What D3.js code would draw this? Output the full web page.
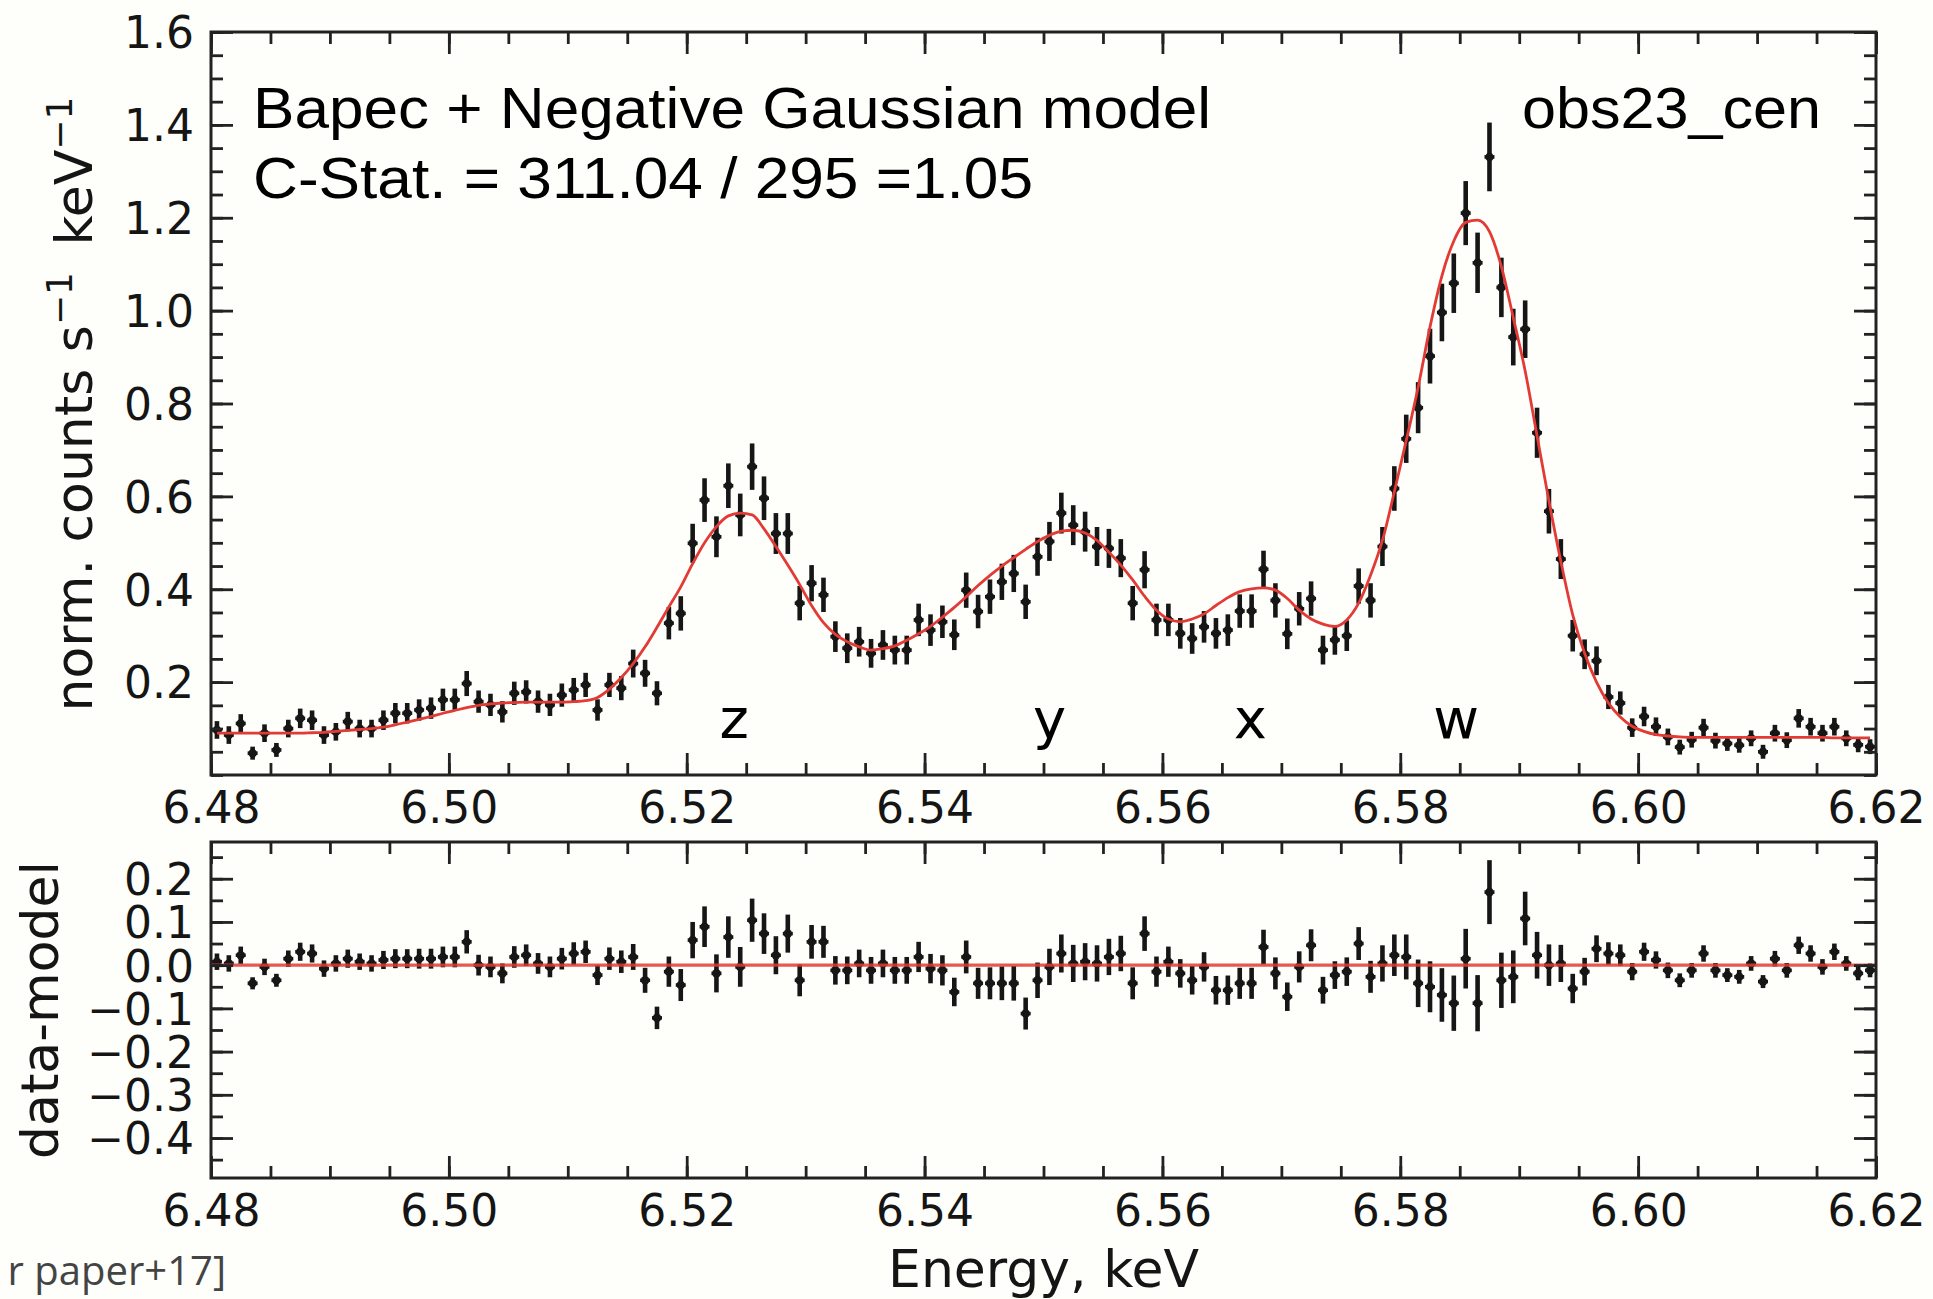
<!DOCTYPE html>
<html><head><meta charset="utf-8">
<script src="https://cdn.jsdelivr.net/npm/d3@7"></script>
<style>
html,body{margin:0;padding:0;background:#fefefa;}
svg{display:block;}
</style></head>
<body><svg id="c" width="1933" height="1299"></svg>
<script>
// ---------------- data ----------------
const energy = [
6.4805,6.4815,6.4825,6.4835,6.4845,6.4855,6.4865,6.4875,6.4885,6.4895,
6.4905,6.4915,6.4925,6.4935,6.4945,6.4955,6.4965,6.4975,6.4985,6.4995,
6.5005,6.5015,6.5025,6.5035,6.5045,6.5055,6.5065,6.5075,6.5085,6.5095,
6.5105,6.5115,6.5125,6.5135,6.5145,6.5155,6.5165,6.5175,6.5185,6.5195,
6.5205,6.5215,6.5225,6.5235,6.5245,6.5255,6.5265,6.5275,6.5285,6.5295,
6.5305,6.5315,6.5325,6.5335,6.5345,6.5355,6.5365,6.5375,6.5385,6.5395,
6.5405,6.5415,6.5425,6.5435,6.5445,6.5455,6.5465,6.5475,6.5485,6.5495,
6.5505,6.5515,6.5525,6.5535,6.5545,6.5555,6.5565,6.5575,6.5585,6.5595,
6.5605,6.5615,6.5625,6.5635,6.5645,6.5655,6.5665,6.5675,6.5685,6.5695,
6.5705,6.5715,6.5725,6.5735,6.5745,6.5755,6.5765,6.5775,6.5785,6.5795,
6.5805,6.5815,6.5825,6.5835,6.5845,6.5855,6.5865,6.5875,6.5885,6.5895,
6.5905,6.5915,6.5925,6.5935,6.5945,6.5955,6.5965,6.5975,6.5985,6.5995,
6.6005,6.6015,6.6025,6.6035,6.6045,6.6055,6.6065,6.6075,6.6085,6.6095,
6.6105,6.6115,6.6125,6.6135,6.6145,6.6155,6.6165,6.6175,6.6185,6.6195];

const counts = [
0.097,0.086,0.111,0.047,0.090,0.054,0.100,0.122,0.118,0.086,
0.093,0.115,0.100,0.100,0.118,0.133,0.133,0.140,0.144,0.162,
0.162,0.197,0.158,0.151,0.136,0.176,0.179,0.158,0.151,0.172,
0.183,0.194,0.140,0.194,0.187,0.240,0.219,0.176,0.327,0.348,
0.499,0.592,0.513,0.623,0.560,0.664,0.596,0.520,0.520,0.370,
0.413,0.388,0.298,0.273,0.287,0.262,0.280,0.269,0.269,0.334,
0.312,0.330,0.302,0.398,0.352,0.384,0.416,0.434,0.373,0.470,
0.503,0.564,0.538,0.524,0.492,0.488,0.467,0.370,0.442,0.334,
0.334,0.305,0.294,0.319,0.305,0.312,0.353,0.353,0.443,0.376,
0.304,0.358,0.380,0.269,0.291,0.300,0.407,0.376,0.492,0.617,
0.724,0.791,0.902,0.996,1.059,1.210,1.103,1.331,1.050,0.943,
0.960,0.737,0.568,0.465,0.300,0.260,0.246,0.168,0.155,0.102,
0.126,0.104,0.082,0.060,0.076,0.102,0.074,0.068,0.064,0.079,
0.050,0.090,0.075,0.122,0.104,0.090,0.104,0.079,0.065,0.061];

const errors = [
0.019,0.019,0.020,0.014,0.019,0.015,0.019,0.021,0.021,0.019,
0.019,0.021,0.019,0.019,0.021,0.022,0.022,0.023,0.023,0.024,
0.024,0.027,0.024,0.024,0.023,0.025,0.025,0.024,0.024,0.025,
0.026,0.026,0.023,0.026,0.026,0.030,0.029,0.026,0.035,0.037,
0.042,0.047,0.044,0.048,0.046,0.050,0.047,0.044,0.044,0.037,
0.039,0.037,0.033,0.032,0.032,0.031,0.032,0.031,0.031,0.035,
0.034,0.035,0.033,0.038,0.036,0.037,0.039,0.040,0.037,0.041,
0.042,0.044,0.043,0.043,0.042,0.042,0.041,0.037,0.040,0.035,
0.035,0.033,0.033,0.034,0.033,0.034,0.036,0.036,0.040,0.037,
0.033,0.036,0.037,0.031,0.032,0.033,0.038,0.037,0.042,0.048,
0.052,0.055,0.059,0.062,0.064,0.069,0.065,0.074,0.064,0.061,
0.062,0.054,0.048,0.043,0.034,0.032,0.031,0.026,0.025,0.020,
0.021,0.020,0.018,0.016,0.017,0.019,0.017,0.016,0.016,0.017,
0.015,0.018,0.017,0.020,0.019,0.018,0.019,0.017,0.016,0.016];

const model = [
0.090,0.090,0.090,0.090,0.090,0.090,0.090,0.090,0.091,0.092,
0.094,0.096,0.098,0.100,0.103,0.108,0.114,0.120,0.126,0.133,
0.139,0.145,0.150,0.153,0.155,0.156,0.157,0.157,0.157,0.157,
0.158,0.160,0.167,0.185,0.210,0.240,0.276,0.318,0.362,0.405,
0.455,0.500,0.535,0.558,0.564,0.560,0.530,0.492,0.452,0.410,
0.365,0.328,0.303,0.287,0.276,0.269,0.272,0.278,0.290,0.304,
0.320,0.340,0.361,0.384,0.408,0.430,0.450,0.468,0.486,0.503,
0.516,0.525,0.527,0.521,0.505,0.480,0.452,0.420,0.385,0.355,
0.336,0.330,0.336,0.347,0.365,0.382,0.395,0.401,0.403,0.398,
0.380,0.355,0.336,0.325,0.320,0.334,0.370,0.430,0.505,0.610,
0.720,0.835,0.965,1.075,1.150,1.190,1.195,1.170,1.095,0.985,
0.870,0.730,0.590,0.460,0.345,0.262,0.200,0.155,0.125,0.105,
0.094,0.087,0.084,0.082,0.081,0.081,0.081,0.081,0.081,0.081,
0.081,0.081,0.081,0.081,0.081,0.081,0.080,0.080,0.080,0.080];

const resid = [
0.008,0.004,0.023,-0.042,-0.004,-0.035,0.015,0.031,0.027,-0.008,
0.004,0.015,0.008,0.004,0.012,0.015,0.015,0.015,0.015,0.019,
0.019,0.054,0.000,-0.004,-0.019,0.019,0.023,0.004,-0.004,0.015,
0.027,0.031,-0.023,0.015,0.008,0.019,-0.035,-0.122,-0.015,-0.046,
0.058,0.089,-0.019,0.065,-0.004,0.104,0.073,0.023,0.073,-0.035,
0.054,0.054,-0.012,-0.012,0.004,-0.012,0.004,-0.012,-0.012,0.019,
-0.008,-0.012,-0.062,0.019,-0.042,-0.042,-0.042,-0.042,-0.112,-0.035,
-0.004,0.027,0.004,0.008,0.004,0.019,0.027,-0.042,0.073,-0.015,
0.008,-0.019,-0.035,-0.004,-0.058,-0.058,-0.042,-0.042,0.042,-0.019,
-0.073,-0.004,0.046,-0.058,-0.023,-0.015,0.050,-0.027,0.004,0.023,
0.019,-0.042,-0.050,-0.069,-0.088,0.015,-0.088,0.169,-0.035,-0.027,
0.108,0.023,0.000,0.004,-0.054,-0.015,0.038,0.027,0.023,-0.015,
0.031,0.012,-0.012,-0.035,-0.012,0.027,-0.012,-0.023,-0.027,0.004,
-0.038,0.015,-0.012,0.046,0.027,-0.004,0.031,0.004,-0.019,-0.012];

const binHalf = 0.00042;
const xDomain = [6.48, 6.62];
const xTicks = [6.48,6.50,6.52,6.54,6.56,6.58,6.60,6.62];
const yTopDomain = [0, 1.6];
const yTicksTop = [0.2,0.4,0.6,0.8,1.0,1.2,1.4,1.6];
const yBotDomain = [-0.4925, 0.285];
const yTicksBot = [-0.4,-0.3,-0.2,-0.1,0.0,0.1,0.2];
const lineLabels = ["z","y","x","w"];
const lineEnergies = [6.524,6.5505,6.5674,6.5847];
const lineLabelLevel = 0.08;
const titleLines = ["Bapec + Negative Gaussian model","C-Stat. = 311.04 / 295 =1.05"];
const obsName = "obs23_cen";

// ---------------- layout ----------------
const svg = d3.select("#c");
svg.append("rect").attr("width",1933).attr("height",1299).attr("fill","#fefefa");
const L=211, R=1876, T1=32, B1=775, T2=842, B2=1178;
const INK="#161616", RED="#e23b36";
const x = d3.scaleLinear().domain(xDomain).range([L,R]);
const y1 = d3.scaleLinear().domain(yTopDomain).range([B1,T1]);
const y2 = d3.scaleLinear().domain(yBotDomain).range([B2,T2]);
const pts = energy.map((e,i)=>({e, c:counts[i], err:errors[i], m:model[i], r:resid[i]}));

function styleAxis(sel){
  sel.select(".domain").remove();
  sel.selectAll(".tick line").attr("stroke","#222").attr("stroke-width",2.8);
  sel.selectAll(".tick text").attr("fill","#151515")
     .style("font-family","'DejaVu Sans'").style("font-size","44px");
}
function panel(ys, yMajor, yMinorCount, yFmt, top, bot){
  const g = svg.append("g");
  const xMinor = x.ticks(28);
  const yMinor = ys.ticks(yMinorCount);
  g.append("g").attr("transform",`translate(0,${bot})`)
    .call(d3.axisBottom(x).tickValues(xTicks).tickFormat(d3.format(".2f")).tickSize(-22).tickPadding(17)).call(styleAxis);
  g.append("g").attr("transform",`translate(0,${bot})`)
    .call(d3.axisBottom(x).tickValues(xMinor).tickFormat("").tickSize(-12)).call(styleAxis);
  g.append("g").attr("transform",`translate(0,${top})`)
    .call(d3.axisTop(x).tickValues(xTicks).tickFormat("").tickSize(-22)).call(styleAxis);
  g.append("g").attr("transform",`translate(0,${top})`)
    .call(d3.axisTop(x).tickValues(xMinor).tickFormat("").tickSize(-12)).call(styleAxis);
  const la = g.append("g").attr("transform",`translate(${L},0)`)
    .call(d3.axisLeft(ys).tickValues(yMajor).tickFormat(yFmt).tickSize(-22).tickPadding(17)).call(styleAxis);
  la.selectAll(".tick text").attr("dy","0.36em");
  g.append("g").attr("transform",`translate(${L},0)`)
    .call(d3.axisLeft(ys).tickValues(yMinor).tickFormat("").tickSize(-12)).call(styleAxis);
  g.append("g").attr("transform",`translate(${R},0)`)
    .call(d3.axisRight(ys).tickValues(yMajor).tickFormat("").tickSize(-22)).call(styleAxis);
  g.append("g").attr("transform",`translate(${R},0)`)
    .call(d3.axisRight(ys).tickValues(yMinor).tickFormat("").tickSize(-12)).call(styleAxis);
  g.append("rect").attr("x",L).attr("y",top).attr("width",R-L).attr("height",bot-top)
    .attr("fill","none").attr("stroke","#222").attr("stroke-width",3);
}

function drawPoints(ys, key){
  const g = svg.append("g");
  g.selectAll("line.v").data(pts).join("line")
    .attr("x1",d=>x(d.e)).attr("x2",d=>x(d.e))
    .attr("y1",d=>ys(d[key]-d.err)).attr("y2",d=>ys(d[key]+d.err))
    .attr("stroke",INK).attr("stroke-width",4.6);
  g.selectAll("line.h").data(pts).join("line")
    .attr("x1",d=>x(d.e-binHalf)).attr("x2",d=>x(d.e+binHalf))
    .attr("y1",d=>ys(d[key])).attr("y2",d=>ys(d[key]))
    .attr("stroke",INK).attr("stroke-width",3.6);
  g.selectAll("circle").data(pts).join("circle")
    .attr("cx",d=>x(d.e)).attr("cy",d=>ys(d[key])).attr("r",4.3).attr("fill",INK);
}

// ---- top panel ----
drawPoints(y1, "c");
svg.append("path").datum(pts)
  .attr("d", d3.line().x(d=>x(d.e)).y(d=>y1(d.m)).curve(d3.curveMonotoneX))
  .attr("fill","none").attr("stroke",RED).attr("stroke-width",2.8);
panel(y1, yTicksTop, 32, d3.format(".1f"), T1, B1);

// ---- bottom panel ----
drawPoints(y2, "r");
svg.append("path").datum(xDomain)
  .attr("d", d3.line().x(d=>x(d)).y(()=>y2(0)))
  .attr("fill","none").attr("stroke",RED).attr("stroke-width",3.2).attr("stroke-opacity",0.85);
panel(y2, yTicksBot, 16, d3.format(".1f"), T2, B2);

// ---- annotations ----
const sans = "'Liberation Sans', Arial, sans-serif";
svg.append("text").attr("x",253).attr("y",128).attr("font-family",sans).attr("font-size",58)
  .attr("textLength",958).attr("lengthAdjust","spacingAndGlyphs").attr("fill","#000").text(titleLines[0]);
svg.append("text").attr("x",253).attr("y",198).attr("font-family",sans).attr("font-size",58)
  .attr("textLength",780).attr("lengthAdjust","spacingAndGlyphs").attr("fill","#000").text(titleLines[1]);
svg.append("text").attr("x",1522).attr("y",128).attr("font-family",sans).attr("font-size",58)
  .attr("textLength",299).attr("lengthAdjust","spacingAndGlyphs").attr("fill","#000").text(obsName);

svg.append("g").selectAll("text").data(lineLabels).join("text")
  .attr("x",(d,i)=>x(lineEnergies[i])).attr("y",y1(lineLabelLevel))
  .attr("text-anchor","middle").attr("font-family","'DejaVu Sans'").attr("font-size",56)
  .attr("fill","#000").text(d=>d);

// axis labels
const dv = "'DejaVu Sans'";
const yl = svg.append("text").attr("transform","translate(92,404) rotate(-90)")
  .attr("text-anchor","middle").attr("font-family",dv).attr("font-size",52).attr("fill","#151515");
yl.append("tspan").text("norm. counts s");
yl.append("tspan").attr("dy",-20).attr("font-size",36).text("\u22121");
yl.append("tspan").attr("dy",20).attr("dx",10).text(" keV");
yl.append("tspan").attr("dy",-20).attr("font-size",36).text("\u22121");

svg.append("text").attr("transform","translate(58,1010) rotate(-90)")
  .attr("text-anchor","middle").attr("font-family",dv).attr("font-size",52).attr("fill","#151515").text("data-model");
svg.append("text").attr("x",(L+R)/2).attr("y",1287)
  .attr("text-anchor","middle").attr("font-family",dv).attr("font-size",52).attr("fill","#151515").text("Energy, keV");

svg.append("text").attr("x",226).attr("y",1285).attr("text-anchor","end")
  .attr("font-family","'Open Sans'").attr("font-size",40).attr("fill","#444").text("r paper+17]");
</script>
</body></html>
